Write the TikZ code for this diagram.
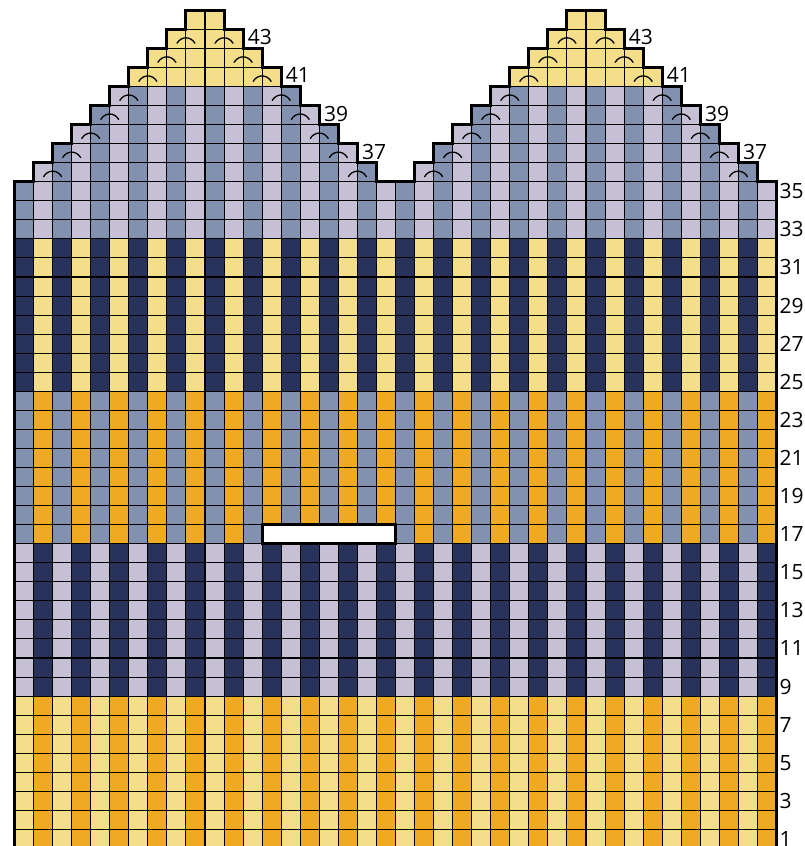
\documentclass[tikz,border=0pt]{standalone}
\usepackage{fontspec}
\setmainfont{Open Sans}
\definecolor{paleYellow}{HTML}{F5DE8A}
\definecolor{deepOrange}{HTML}{EEAA22}
\definecolor{paleLilac}{HTML}{C6C0D4}
\definecolor{inkNavy}{HTML}{28325A}
\definecolor{slateBlue}{HTML}{8391B1}
\usetikzlibrary{positioning}

% colour of one stitch: #1 = row, #2 = column
\newcommand{\stitchfill}[2]{%
  \ifnum#1<9 \ifodd#2 \def\cc{paleYellow}\else\def\cc{deepOrange}\fi
  \else\ifnum#1<17 \ifodd#2 \def\cc{paleLilac}\else\def\cc{inkNavy}\fi
  \else\ifnum#1<25 \ifodd#2 \def\cc{slateBlue}\else\def\cc{deepOrange}\fi
  \else\ifnum#1<33 \ifodd#2 \def\cc{inkNavy}\else\def\cc{paleYellow}\fi
  \else\ifnum#1<41 \ifodd#2 \def\cc{slateBlue}\else\def\cc{paleLilac}\fi
  \else\def\cc{paleYellow}\fi\fi\fi\fi\fi
  \filldraw[stitch,fill=\cc] (#2-1,#1-1) rectangle (#2,#1);}

% decrease mark centred on grid line #1 in row #2
\newcommand{\decmark}[2]{%
  \draw[decr] (#1-0.47,#2-0.73) .. controls (#1-0.25,#2-0.35) and (#1+0.25,#2-0.35) .. (#1+0.47,#2-0.73);}

\begin{document}
\begin{tikzpicture}[x=19.05pt,y=19.05pt,
    stitch/.style={draw=black,line width=1pt},
    tenline/.style={line width=1.9pt},
    outline/.style={line width=3pt,line join=miter},
    decr/.style={line width=1.3pt,line cap=round},
    rowno/.style={font=\fontsize{21pt}{25pt}\selectfont,inner sep=0pt,anchor=west}]

  \useasboundingbox (-14.5pt,2.5pt) rectangle (789.5pt,848.5pt);
  \clip (-14.5pt,2.5pt) rectangle (789.5pt,848.5pt);

  % body of the chart, rows 1--35
  \foreach \rw in {1,...,35}{
    \foreach \cl in {1,...,40}{\stitchfill{\rw}{\cl}}
  }

  % top shaping, rows 36--44
  \foreach \rw in {36,...,44}{
    \pgfmathtruncatemacro{\la}{\rw-34}
    \pgfmathtruncatemacro{\lb}{55-\rw}
    \pgfmathtruncatemacro{\ra}{\rw-14}
    \pgfmathtruncatemacro{\rb}{75-\rw}
    \foreach \cl in {\la,...,\lb}{\stitchfill{\rw}{\cl}}
    \foreach \cl in {\ra,...,\rb}{\stitchfill{\rw}{\cl}}
  }

  % ten-stitch guide lines
  \foreach \y in {10,20,30}{\draw[tenline] (0,\y) -- (40,\y);}
  \draw[tenline] (10,0) -- (10,44);
  \draw[tenline] (20,0) -- (20,35);
  \draw[tenline] (30,0) -- (30,44);

  % decreases
  \foreach \rw in {36,...,43}{
    \decmark{\rw-34}{\rw}
    \decmark{54-\rw}{\rw}
    \decmark{\rw-14}{\rw}
    \decmark{74-\rw}{\rw}
  }

  % thumb opening
  \filldraw[fill=white,line width=3pt] (13,16) rectangle (20,17);

  % outline
  \draw[outline] (0,0) -- (0,35)
    foreach \k in {0,...,8}{ -- (1+\k,35+\k) -- (1+\k,36+\k) } -- (11,44)
    foreach \j in {0,...,8}{ -- (11+\j,43-\j) -- (12+\j,43-\j) }
    foreach \k in {0,...,8}{ -- (21+\k,35+\k) -- (21+\k,36+\k) } -- (31,44)
    foreach \j in {0,...,8}{ -- (31+\j,43-\j) -- (32+\j,43-\j) }
    -- (40,0) -- cycle;

  % row numbers
  \foreach \n in {1,3,...,35}{
    \node[rowno,xshift=3pt] (num\n) at (40,\n-0.5) {\n};
  }
  \foreach \n in {37,39,41,43}{
    \node[rowno,xshift=4.5pt] (lnum\n) at (55-\n,\n-0.42) {\n};
    \node[rowno,xshift=4.5pt] (rnum\n) at (75-\n,\n-0.42) {\n};
  }
\end{tikzpicture}
\end{document}
